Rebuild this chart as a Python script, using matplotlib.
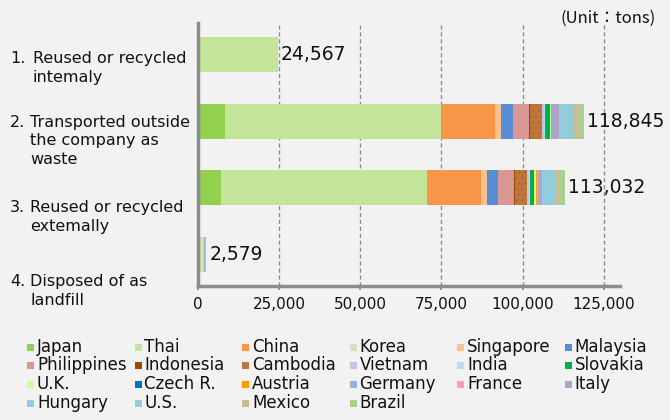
import matplotlib
matplotlib.use('Agg')
import matplotlib.pyplot as plt
from matplotlib.patches import Rectangle
import numpy as np

plt.rcParams['font.family'] = ['DejaVu Sans', 'Noto Sans CJK JP']
plt.rcParams['hatch.linewidth'] = 0.6

# rows, top to bottom
row_numbers = ['1.', '2.', '3.', '4.']
row_texts = ['Reused or recycled\nintemaly',
             'Transported outside\nthe company as\nwaste',
             'Reused or recycled\nextemally',
             'Disposed of as\nlandfill']
row_totals = [24567, 118845, 113032, 2579]

countries = ['Japan', 'Thai', 'China', 'Korea', 'Singapore', 'Malaysia',
             'Philippines', 'Indonesia', 'Cambodia', 'Vietnam', 'India', 'Slovakia',
             'U.K.', 'Czech R.', 'Austria', 'Germany', 'France', 'Italy',
             'Hungary', 'U.S.', 'Mexico', 'Brazil']
colors = ['#92d050', '#c3e499', '#f79646', '#d2e2bd', '#fac090', '#558ed5',
          '#d99694', '#984807', '#c0763a', '#ccc0da', '#b7dde8', '#00b050',
          '#ccff99', '#0070c0', '#ff9900', '#95b3d7', '#ff99cc', '#b3a2c7',
          '#93cddd', '#92cddc', '#c4bd97', '#a9d18e']

# tons per country for each row
internal = [0, 24200, 0, 0, 367, 0, 0, 0, 0, 0, 0, 0,
            0, 0, 0, 0, 0, 0, 0, 0, 0, 0]
transported = [8300, 66600, 16500, 0, 1900, 3700, 5100, 300, 3600, 600, 300, 1400,
               400, 150, 200, 300, 100, 1700, 1500, 3100, 1800, 1295]
external = [7100, 63530, 16400, 0, 2000, 3500, 4900, 300, 3600, 500, 400, 1300,
            500, 100, 200, 200, 100, 1300, 1200, 3302, 1200, 1400]
landfill = [0, 900, 0, 500, 0, 0, 0, 0, 0, 0, 400, 0,
            0, 0, 0, 400, 0, 0, 379, 0, 0, 0]

xticks = [0, 25000, 50000, 75000, 100000, 125000]

W, H = 670, 420
bg = '#f2f2f2'
fig = plt.figure(figsize=(W / 100, H / 100), dpi=100, facecolor=bg)
ax = fig.add_axes([198 / W, 1 - 286 / H, (620 - 198) / W, (286 - 23) / H])
ax.set_facecolor(bg)

data = np.array([internal, transported, external, landfill], dtype=float)
ypos = np.arange(len(row_numbers))
left = np.zeros(len(ypos))
for j, name in enumerate(countries):
    hatch = '...' if name == 'Cambodia' else None
    ax.barh(ypos, data[:, j], left=left, height=0.53, color=colors[j],
            edgecolor='#a6602c' if hatch else 'none', linewidth=0,
            hatch=hatch, zorder=2)
    left += data[:, j]

for y, tot in zip(ypos, row_totals):
    ax.text(tot + 1000, y, f'{tot:,}', va='center', ha='left',
            fontsize=13.5, color='#111111', zorder=3)

ax.set_xlim(0, 130000)
ax.set_ylim(3.48, -0.48)
ax.set_xticks(xticks)
ax.set_xticklabels([f'{v:,}' for v in xticks], fontsize=11, color='#111111')
ax.set_yticks([])
ax.tick_params(axis='x', length=3, width=1.2, color='#808080', pad=5)
for v in xticks[1:]:
    ax.axvline(v, color='#8c8c8c', lw=1, ls=(0, (3, 2)), zorder=1)
for s in ['top', 'right']:
    ax.spines[s].set_visible(False)
for s in ['left', 'bottom']:
    ax.spines[s].set_color('#8c8c8c')
    ax.spines[s].set_linewidth(2.5)

# category labels; the number gets the same line count so it sits on line one
label_centers = [68, 141, 217, 291]
for num, txt, yc in zip(row_numbers, row_texts, label_centers):
    pad = '\n' * txt.count('\n')
    fig.text(10 / W, 1 - yc / H, num + pad, fontsize=11.5,
             va='center', ha='left', linespacing=1.3, color='#111111')
    fig.text((33 if num == '1.' else 30) / W, 1 - yc / H, txt, fontsize=11.5,
             va='center', ha='left', linespacing=1.3, color='#111111')

fig.text(656 / W, 1 - 18 / H, '(Unit：tons)', fontsize=12, ha='right',
         va='center', color='#111111',
         family=['Noto Sans CJK JP', 'DejaVu Sans'])

# legend, row-major in a 6 column grid
col_x = 27
col_w = 107.5
row_y = [347, 365.5, 384, 403]
sq = 7
for i, (name, c) in enumerate(zip(countries, colors)):
    cx = col_x + (i % 6) * col_w
    cy = row_y[i // 6]
    fig.patches.append(Rectangle((cx / W, 1 - (cy + sq / 2) / H), sq / W, sq / H,
                                 transform=fig.transFigure, facecolor=c,
                                 edgecolor='none'))
    fig.text((cx + sq + 3) / W, 1 - cy / H, name, fontsize=12,
             va='center', ha='left', color='#111111')

fig.savefig('out.png', dpi=100, facecolor=bg)
